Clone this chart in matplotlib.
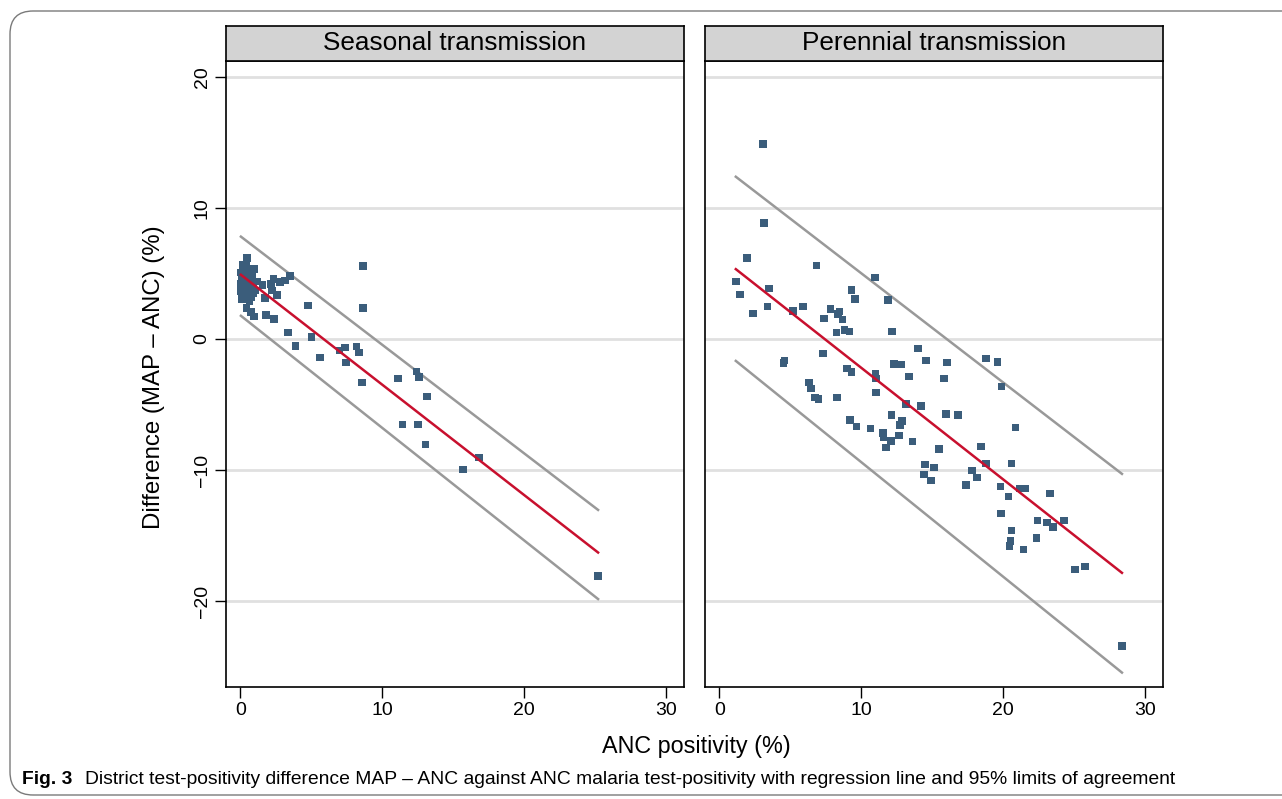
import matplotlib
matplotlib.use("Agg")
import matplotlib.pyplot as plt
from matplotlib.patches import FancyBboxPatch

plt.rcParams['font.family'] = ['Liberation Sans', 'DejaVu Sans']

# Seasonal transmission districts: ANC positivity (%) vs difference MAP - ANC (%)
seasonal_x = [0.50, 0.21, 0.45, 0.30, 0.55, 0.97, 0.05, 0.35, 0.15, 0.60,
              0.85, 0.10, 0.40, 0.25, 0.55, 0.75, 1.23, 0.05, 0.35, 0.65,
              0.95, 0.15, 0.45, 0.80, 1.05, 0.02, 0.30, 0.60, 0.90, 0.20,
              0.50, 0.75, 0.10, 0.40, 0.65,
              1.58, 2.34, 2.81, 3.17, 3.52, 2.15, 2.22, 2.58, 1.75, 4.78,
              0.45, 0.76, 0.99, 1.82, 2.39, 3.38, 5.01, 3.90, 5.60, 7.00,
              7.38, 7.45, 8.20, 8.37, 8.56, 11.10, 12.41, 12.60, 13.17, 11.42,
              12.53, 13.05, 16.80, 15.67, 25.18, 8.63, 8.63]
seasonal_y = [6.16, 5.65, 5.75, 5.45, 5.35, 5.32, 5.06, 5.10, 4.95, 4.95,
              4.71, 4.60, 4.70, 4.40, 4.45, 4.30, 4.37, 4.20, 4.15, 4.05,
              4.00, 3.90, 3.85, 3.75, 3.70, 3.60, 3.55, 3.50, 3.45, 3.30,
              3.25, 3.15, 3.05, 3.00, 2.90,
              4.12, 4.56, 4.33, 4.45, 4.81, 4.20, 3.69, 3.36, 3.10, 2.54,
              2.34, 2.04, 1.70, 1.80, 1.50, 0.48, 0.15, -0.53, -1.43, -0.89,
              -0.66, -1.80, -0.58, -1.04, -3.33, -3.03, -2.49, -2.93, -4.40, -6.54,
              -6.54, -8.07, -9.06, -9.97, -18.09, 5.57, 2.37]

# Perennial transmission districts
perennial_x = [3.08, 3.15, 1.96, 6.84, 1.17, 3.50, 1.45, 3.41, 2.36, 5.19,
               5.89, 7.85, 7.36, 8.46, 8.36, 8.67, 8.25, 8.81, 7.33, 4.60,
               4.53, 9.00, 6.31, 6.45, 6.73, 7.00, 8.31,
               10.98, 9.32, 9.57, 11.89, 9.18, 12.17, 14.00, 14.58, 16.05, 12.31,
               12.80, 9.04, 9.32, 11.00, 11.02, 13.38, 15.84, 11.05, 13.15, 14.23,
               15.98, 16.80, 12.12, 9.23, 12.87, 12.73, 9.67, 10.65, 11.54, 11.56,
               12.66, 12.10, 13.60, 11.75, 15.47, 14.48, 15.11, 14.41, 14.90, 17.80,
               17.36,
               18.78, 19.60, 19.88, 20.86, 18.43, 18.78, 20.58, 18.15, 19.81, 20.37,
               21.14, 21.56, 23.31, 19.83, 22.40, 23.10, 23.52, 24.30, 20.58, 20.51,
               20.44, 22.33, 21.44, 25.07, 25.77, 28.36]
perennial_y = [14.89, 8.85, 6.18, 5.60, 4.37, 3.84, 3.38, 2.47, 1.93, 2.14,
               2.47, 2.29, 1.55, 2.09, 1.91, 1.47, 0.48, 0.69, -1.12, -1.66,
               -1.83, -2.26, -3.33, -3.79, -4.48, -4.61, -4.48,
               4.68, 3.74, 3.05, 2.98, 0.56, 0.56, -0.74, -1.66, -1.81, -1.91,
               -1.96, -2.26, -2.52, -2.67, -3.03, -2.87, -3.03, -4.10, -4.96, -5.11,
               -5.73, -5.80, -5.80, -6.18, -6.26, -6.56, -6.69, -6.84, -7.20, -7.53,
               -7.38, -7.79, -7.84, -8.30, -8.40, -9.59, -9.82, -10.36, -10.82, -10.05,
               -11.15,
               -1.50, -1.76, -3.64, -6.77, -8.22, -9.52, -9.52, -10.59, -11.27, -12.04,
               -11.42, -11.42, -11.80, -13.33, -13.87, -14.02, -14.35, -13.87, -14.63, -15.40,
               -15.78, -15.17, -16.08, -17.61, -17.38, -23.41]

# regression line and 95% limits of agreement (end points)
seasonal_line_x = [0.05, 25.2]
seasonal_fit = [4.89, -16.3]
seasonal_upper = [7.8, -13.05]
seasonal_lower = [1.76, -19.85]

perennial_line_x = [1.17, 28.36]
perennial_fit = [5.32, -17.85]
perennial_upper = [12.37, -10.3]
perennial_lower = [-1.68, -25.46]

panel_titles = ["Seasonal transmission", "Perennial transmission"]
xticks = [0, 10, 20, 30]
yticks = [-20, -10, 0, 10, 20]

MARKER_COLOR = '#3b5d7b'
FIT_COLOR = '#c8102e'
LOA_COLOR = '#999999'

W, H = 1282, 799
fig = plt.figure(figsize=(W / 100, H / 100), dpi=100)

# outer figure frame with rounded corners
frame = FancyBboxPatch((10 / W, 4 / H), 1.2, (H - 15) / H,
                       boxstyle="round,pad=0,rounding_size=0.018",
                       transform=fig.transFigure, fill=False,
                       edgecolor='#7a7a7a', linewidth=1.0, mutation_aspect=W / H)
fig.patches.append(frame)

ax_bottom = (H - 687) / H
ax_height = (687 - 61) / H
ax_width = 458 / W
lefts = [226 / W, 705 / W]

panels = [
    (seasonal_x, seasonal_y, seasonal_line_x, seasonal_fit, seasonal_upper, seasonal_lower),
    (perennial_x, perennial_y, perennial_line_x, perennial_fit, perennial_upper, perennial_lower),
]

for i, (left, data) in enumerate(zip(lefts, panels)):
    px, py, lx, fit, up, lo = data
    ax = fig.add_axes([left, ax_bottom, ax_width, ax_height])
    ax.set_xlim(-1.0, 31.25)
    ax.set_ylim(-26.56, 21.2)

    for yv in yticks:
        ax.axhline(yv, color='#e0e0e0', linewidth=2.0, zorder=0)

    ax.plot(lx, up, color=LOA_COLOR, linewidth=1.8, zorder=2)
    ax.plot(lx, lo, color=LOA_COLOR, linewidth=1.8, zorder=2)
    ax.scatter(px, py, marker='s', s=30, color=MARKER_COLOR,
               edgecolors='none', zorder=3)
    ax.plot(lx, fit, color=FIT_COLOR, linewidth=1.8, zorder=4)

    ax.set_xticks(xticks)
    ax.tick_params(axis='x', direction='out', length=8, width=1.0,
                   labelsize=14, pad=3)
    if i == 0:
        ax.set_yticks(yticks)
        ax.set_yticklabels([str(v) if v >= 0 else '\u2212' + str(-v) for v in yticks],
                           rotation=90, va='center')
        ax.tick_params(axis='y', direction='out', length=8, width=1.0,
                       labelsize=14, pad=3)
    else:
        ax.set_yticks([])
    for s in ax.spines.values():
        s.set_linewidth(1.2)
        s.set_color('black')

    # panel strip
    strip = fig.add_axes([left, (H - 61) / H, ax_width, 35 / H])
    strip.set_xticks([])
    strip.set_yticks([])
    strip.set_facecolor('#d3d3d3')
    for s in strip.spines.values():
        s.set_linewidth(1.2)
    strip.text(0.5, 0.5, panel_titles[i], ha='center', va='center',
               fontsize=18.8, transform=strip.transAxes)

fig.text(154 / W, 1 - 377 / H, "Difference (MAP \u2013 ANC) (%)", rotation=90,
         ha='center', va='center', fontsize=17.3)
fig.text(696 / W, 1 - 747 / H, "ANC positivity (%)", ha='center', va='center',
         fontsize=16.8)

fig.text(22 / W, 1 - 780 / H, "Fig. 3", ha='left', va='center', fontsize=13.9,
         fontweight='bold')
fig.text(85 / W, 1 - 780 / H,
         "District test-positivity difference MAP \u2013 ANC against ANC malaria "
         "test-positivity with regression line and 95% limits of agreement",
         ha='left', va='center', fontsize=13.9)

fig.savefig("out.png", dpi=100)
